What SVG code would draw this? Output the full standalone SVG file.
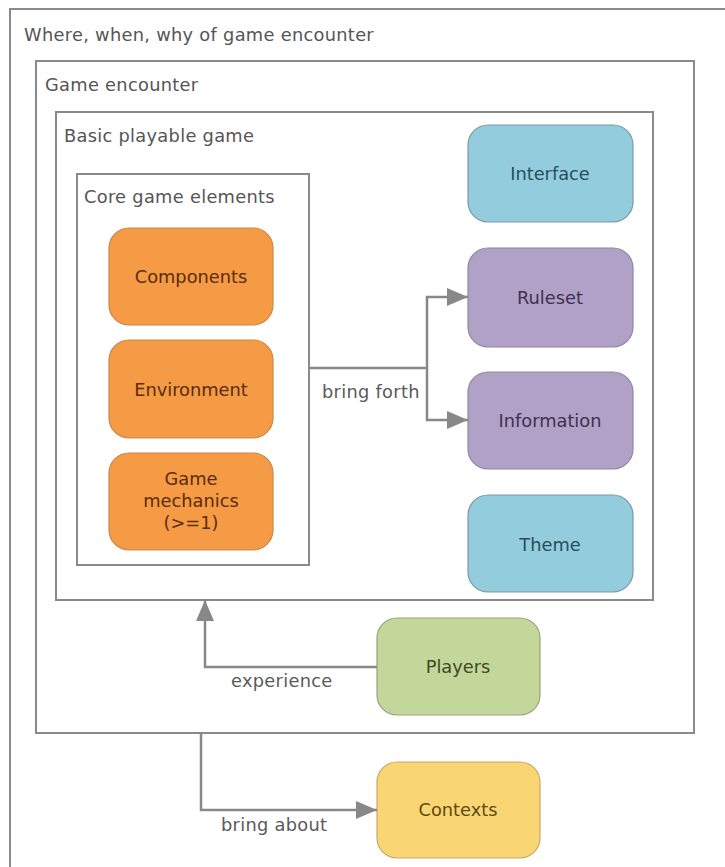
<svg xmlns="http://www.w3.org/2000/svg" width="725" height="867" viewBox="0 0 725 867">
  <style>
    .frame { fill: none; stroke: #8a8a8a; stroke-width: 2; }
    .title { font-family: "DejaVu Sans", Verdana, sans-serif; font-size: 17.8px; fill: #555; letter-spacing: 0.3px; }
    .label { font-family: "DejaVu Sans", Verdana, sans-serif; font-size: 17.8px; fill: #5a5a5a; letter-spacing: 0.3px; }
    .node { stroke-width: 1.2; }
    .node text { font-family: "DejaVu Sans", Verdana, sans-serif; font-size: 17.8px; text-anchor: middle; }
    .orange rect { fill: #F59A45; stroke: #c9884a; }
    .orange text { fill: #5a2d0c; }
    .blue rect { fill: #93CDDD; stroke: #7a9aa3; }
    .blue text { fill: #24505c; }
    .purple rect { fill: #B2A1C7; stroke: #8f86a0; }
    .purple text { fill: #3e3150; }
    .green rect { fill: #C4D79B; stroke: #97a37c; }
    .green text { fill: #3d4a22; }
    .yellow rect { fill: #F9D673; stroke: #c4ab68; }
    .yellow text { fill: #5e4a10; }
    .conn { fill: none; stroke: #888; stroke-width: 2.5; }
  </style>
  <defs>
    <marker id="arrow" markerUnits="userSpaceOnUse" markerWidth="22" markerHeight="18" refX="21" refY="9" orient="auto">
      <path d="M0,0 L21,9 L0,18 Z" fill="#888"/>
    </marker>
  </defs>

  <rect width="725" height="867" fill="#fff"/>

  <!-- nested containers -->
  <g id="context-frame">
    <rect class="frame" x="10" y="9" width="730" height="870"/>
    <text class="title" x="24" y="41">Where, when, why of game encounter</text>
  </g>
  <g id="encounter-frame">
    <rect class="frame" x="36" y="61" width="658" height="672"/>
    <text class="title" x="45" y="91">Game encounter</text>
  </g>
  <g id="playable-frame">
    <rect class="frame" x="56" y="112" width="597" height="488"/>
    <text class="title" x="64" y="142">Basic playable game</text>
  </g>
  <g id="core-frame">
    <rect class="frame" x="77" y="174" width="232" height="391"/>
    <text class="title" x="84" y="203">Core game elements</text>
  </g>

  <!-- core elements -->
  <g id="components" class="node orange">
    <rect x="109" y="228" width="164" height="97" rx="20"/>
    <text x="191" y="283">Components</text>
  </g>
  <g id="environment" class="node orange">
    <rect x="109" y="340" width="164" height="98" rx="20"/>
    <text x="191" y="396">Environment</text>
  </g>
  <g id="mechanics" class="node orange">
    <rect x="109" y="453" width="164" height="97" rx="20"/>
    <text x="191" y="485">Game</text>
    <text x="191" y="507">mechanics</text>
    <text x="191" y="529">(&gt;=1)</text>
  </g>

  <!-- playable game layers -->
  <g id="interface" class="node blue">
    <rect x="468" y="125" width="165" height="97" rx="20"/>
    <text x="550" y="180">Interface</text>
  </g>
  <g id="ruleset" class="node purple">
    <rect x="468" y="248" width="165" height="99" rx="20"/>
    <text x="550" y="304">Ruleset</text>
  </g>
  <g id="information" class="node purple">
    <rect x="468" y="372" width="165" height="97" rx="20"/>
    <text x="550" y="427">Information</text>
  </g>
  <g id="theme" class="node blue">
    <rect x="468" y="495" width="165" height="97" rx="20"/>
    <text x="550" y="551">Theme</text>
  </g>

  <!-- participants and outcomes -->
  <g id="players" class="node green">
    <rect x="377" y="618" width="163" height="97" rx="20"/>
    <text x="458" y="673">Players</text>
  </g>
  <g id="contexts" class="node yellow">
    <rect x="377" y="762" width="163" height="96" rx="20"/>
    <text x="458" y="816">Contexts</text>
  </g>

  <!-- connectors -->
  <g id="connectors">
    <path class="conn" d="M309,368 H427"/>
    <path class="conn" d="M427,368 V297 H468" marker-end="url(#arrow)"/>
    <path class="conn" d="M427,368 V420 H468" marker-end="url(#arrow)"/>
    <text class="label" x="322" y="398">bring forth</text>

    <path class="conn" d="M377,667 H205 V600" marker-end="url(#arrow)"/>
    <text class="label" x="231" y="687">experience</text>

    <path class="conn" d="M201,733 V810 H377" marker-end="url(#arrow)"/>
    <text class="label" x="221" y="831">bring about</text>
  </g>
</svg>
